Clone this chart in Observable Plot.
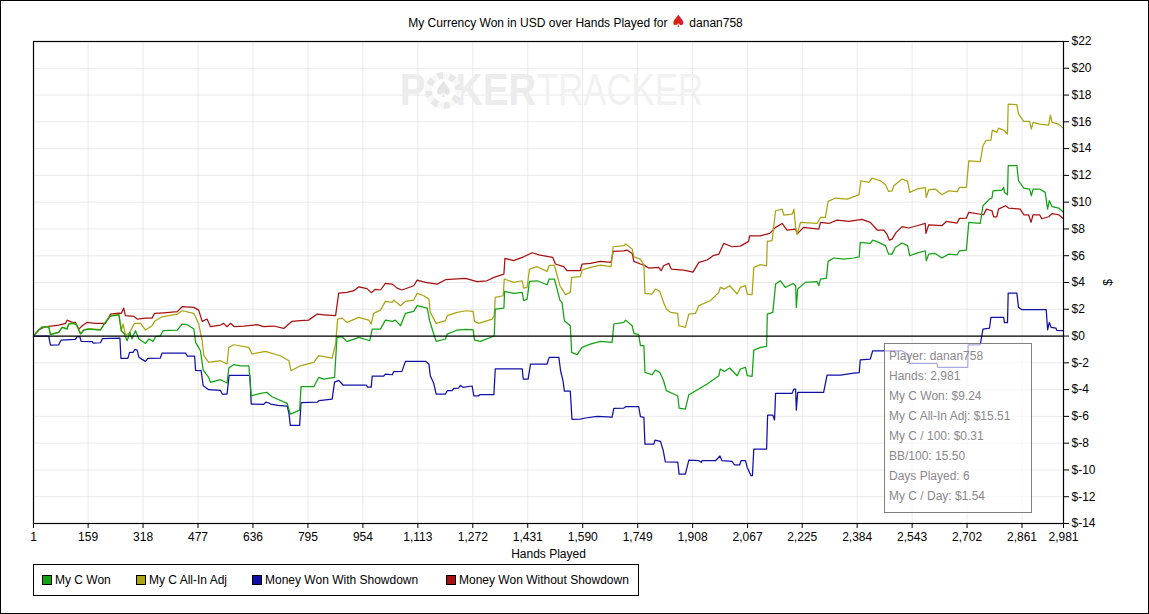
<!DOCTYPE html>
<html><head><meta charset="utf-8">
<script src="https://cdn.jsdelivr.net/npm/d3@7"></script>
<script src="https://cdn.jsdelivr.net/npm/@observablehq/plot@0.6"></script>
<style>
html,body{margin:0;padding:0;background:#fff;overflow:hidden}
#page{position:relative;width:1149px;height:614px;font-family:"Liberation Sans",Arial,sans-serif;color:#000;font-size:12px}
#page svg.plot{position:absolute;left:0;top:0;background:transparent}
#border{position:absolute;left:0;top:0;width:1147px;height:612px;border:1px solid #000;pointer-events:none}
#title{position:absolute;left:0;width:1149px;top:15px;text-align:center;font-size:12px;line-height:14px;padding-left:2px;box-sizing:border-box}
#title b{color:#d8201c;font-weight:normal;font-size:17px;line-height:12px;font-family:"DejaVu Sans"}
.wm{position:absolute;top:65px;white-space:nowrap;font-size:44px;line-height:50px;transform-origin:0 0}
#wm1{left:400px;font-weight:bold;color:#ececec;transform:scaleX(.87)}
#wm2{left:537px;color:#f1f1f1;transform:scaleX(.79)}
#chip{position:absolute;left:425px;top:72px;width:37px;height:37px;border-radius:50%;background:repeating-conic-gradient(from -22.5deg,#e9e9e9 0 22.5deg,#f8f8f8 22.5deg 45deg)}
#chip div{position:absolute;left:7px;top:7px;width:23px;height:23px;border-radius:50%;background:#fff;color:#e4e4e4;text-align:center;font:22px/22px "DejaVu Sans"}
#legend{position:absolute;left:33px;top:564px;width:604px;height:30px;border:1px solid #000;background:#fff}
#legend i{position:absolute;top:10px;width:8px;height:8px;border:1px solid #000}
#legend span{position:absolute;top:8px;line-height:14px;white-space:nowrap}
#tip{position:absolute;left:884px;top:343px;width:146px;height:168px;border:1px solid #808080;background:rgba(255,255,255,.65);color:#8b878c}
#tip div{position:absolute;left:4px;line-height:14px;white-space:nowrap}
</style></head><body>
<div id="page">
<div class="wm" id="wm1">POKER</div><div class="wm" id="wm2">TRACKER</div>
<div id="chip"><div>♠</div></div>
<div id="chart"></div>
<div id="title"></div>
<div id="legend"></div>
<div id="tip"></div>
<div id="border"></div>
</div>
<script>
const titleText = "My Currency Won in USD over Hands Played for";
const playerName = "danan758";
const xTicks = [1,159,318,477,636,795,954,1113,1272,1431,1590,1749,1908,2067,2225,2384,2543,2702,2861,2981];
const yTicks = [-14,-12,-10,-8,-6,-4,-2,0,2,4,6,8,10,12,14,16,18,20,22];
const seriesNames = ["My C Won","My C All-In Adj","Money Won With Showdown","Money Won Without Showdown"];
const seriesColors = ["#12a312","#aba312","#1010a8","#a81010"];
const tipLines = ["Player: danan758","Hands: 2,981","My C Won: $9.24","My C All-In Adj: $15.51","My C / 100: $0.31","BB/100: 15.50","Days Played: 6","My C / Day: $1.54"];

const myCWon = [[1,0],[14,.4],[26,.67],[45,.7],[50,.1],[74,.27],[84,.65],[98,.52],[103,.9],[118,.95],[127,.77],[137,.15],[147,.45],[161,.52],[195,.45],[209,1.02],[224,1.49],[248,1.59],[255,.4],[264,.15],[272,-.35],[280,.27],[286,-.22],[296,.4],[306,-.22],[325,-.55],[335,-.22],[347,-.4],[354,-.05],[368,.02],[376,.4],[417,.45],[431,.9],[446,.85],[465,.52],[470,-.47],[484,-1.1],[492,-2.54],[508,-3.09],[513,-3.46],[542,-3.26],[561,-3.51],[566,-2.39],[580,-2.14],[600,-2.22],[624,-2.22],[631,-4.46],[658,-4.28],[677,-4.21],[691,-4.53],[735,-5.03],[744,-5.83],[771,-5.53],[775,-3.78],[812,-3.78],[826,-3.09],[841,-3.21],[872,-3.09],[879,-.1],[894,-.05],[908,-.42],[942,-.1],[974,-.35],[981,.52],[1005,.52],[1019,1.19],[1039,1.1],[1048,1.19],[1063,.77],[1077,1.69],[1101,1.84],[1111,2.27],[1140,2.09],[1147,1.15],[1156,.4],[1166,-.4],[1193,-.22],[1198,.15],[1227,.45],[1251,.5],[1273,.47],[1277,-.3],[1294,-.4],[1328,-.05],[1334,.02],[1337,2.02],[1362,2.09],[1364,3.34],[1390,3.19],[1415,3.26],[1419,2.64],[1429,2.76],[1436,4.08],[1458,4.13],[1487,3.83],[1493,4.26],[1508,4.26],[1514,3.68],[1524,2.69],[1530,2.51],[1537,1.15],[1554,.77],[1558,-1.22],[1574,-1.39],[1588,-.85],[1612,-.6],[1641,-.4],[1675,-.47],[1680,.9],[1709,1.02],[1714,1.19],[1733,.77],[1738,.2],[1752,.1],[1757,-.72],[1767,-.72],[1770,-2.71],[1791,-2.89],[1800,-2.54],[1813,-2.71],[1824,-3.34],[1832,-4.08],[1858,-4.38],[1865,-4.46],[1869,-5.38],[1887,-5.45],[1897,-4.38],[1926,-3.96],[1950,-3.58],[1984,-2.96],[1988,-2.46],[2000,-2.64],[2015,-2.39],[2037,-2.96],[2046,-2.46],[2061,-2.34],[2066,-2.96],[2080,-3.01],[2085,-1.05],[2104,-.85],[2122,-.77],[2124,1.64],[2140,1.77],[2148,3.88],[2162,4.13],[2176,3.63],[2199,3.93],[2206,3.76],[2208,2.14],[2212,3.51],[2234,4.01],[2268,4.06],[2273,3.76],[2278,4.26],[2295,4.33],[2300,5.58],[2316,5.83],[2345,5.75],[2374,5.83],[2390,5.92],[2393,7],[2422,6.92],[2429,7.17],[2446,7],[2466,6.75],[2475,6.12],[2485,6.12],[2494,6.62],[2514,6.95],[2530,6.75],[2536,6],[2557,6.2],[2581,6.37],[2584,5.63],[2591,6.12],[2610,6.17],[2629,5.83],[2649,6.12],[2673,6.07],[2680,6.37],[2700,6.42],[2707,8.49],[2740,8.41],[2748,9.73],[2767,10.23],[2774,10.31],[2777,10.85],[2803,10.9],[2808,11.1],[2810,10.73],[2819,10.55],[2821,12.72],[2846,12.72],[2851,11.6],[2866,11.05],[2883,10.98],[2888,10.48],[2893,10.98],[2912,10.98],[2928,10.73],[2935,9.48],[2940,10.11],[2948,9.66],[2967,9.56],[2981,9.24]];

const myCAllIn = [[1,0],[14,.4],[26,.67],[45,.7],[50,.12],[74,.3],[84,.67],[98,.55],[103,.92],[118,.97],[127,.8],[137,.18],[147,.48],[161,.55],[195,.48],[209,1.05],[224,1.52],[248,1.62],[255,.4],[260,.9],[267,.15],[277,.15],[282,.4],[293,.95],[311,.95],[325,.45],[344,.77],[351,1.1],[373,1.44],[417,1.64],[431,1.89],[465,1.69],[479,.9],[489,-.35],[494,-1.47],[508,-1.97],[542,-1.84],[561,-2.09],[566,-.85],[580,-.65],[624,-.85],[633,-1.34],[672,-1.15],[715,-1.47],[740,-1.84],[746,-2.59],[773,-2.22],[812,-1.97],[826,-1.47],[865,-1.64],[875,-.6],[881,1.27],[894,1.34],[908,1.02],[942,1.39],[971,1.19],[978,.9],[985,1.69],[1005,1.94],[1019,2.59],[1039,2.51],[1043,2.69],[1063,2.27],[1077,2.59],[1101,2.69],[1111,3.19],[1130,3.01],[1145,2.76],[1149,1.77],[1166,.95],[1193,1.15],[1198,1.52],[1227,1.77],[1251,1.89],[1273,1.84],[1277,1.1],[1289,.95],[1328,1.27],[1334,1.52],[1337,2.89],[1360,3.01],[1363,4.26],[1390,4.01],[1415,4.13],[1419,3.58],[1429,3.63],[1436,5],[1458,5.18],[1487,4.83],[1493,5.28],[1508,5.28],[1514,4.73],[1524,3.76],[1540,3.09],[1554,3.26],[1558,4.38],[1583,4.43],[1588,4.93],[1612,5.13],[1641,5.3],[1672,5.18],[1678,6.67],[1709,6.75],[1714,6.87],[1733,6.5],[1738,5.92],[1757,5.75],[1767,5.3],[1770,3.19],[1791,3.14],[1800,3.51],[1813,3.34],[1824,2.51],[1832,2.02],[1844,1.77],[1865,1.69],[1868,.77],[1887,.65],[1897,1.64],[1916,1.69],[1926,2.27],[1959,2.64],[1984,3.26],[1988,3.63],[2000,3.51],[2015,3.76],[2037,3.14],[2046,3.63],[2061,3.76],[2066,3.14],[2080,3.09],[2085,5.13],[2104,5.33],[2122,5.25],[2124,7.07],[2138,7.12],[2148,9.36],[2167,9.48],[2172,9.04],[2196,9.11],[2201,9.48],[2206,8.12],[2210,7.57],[2220,8.49],[2268,8.41],[2278,8.86],[2292,8.86],[2300,10.06],[2321,10.31],[2355,10.23],[2389,10.55],[2395,11.6],[2418,11.48],[2427,11.8],[2451,11.6],[2466,11.3],[2475,10.8],[2485,10.85],[2490,11.23],[2514,11.73],[2530,11.55],[2536,10.73],[2557,10.98],[2581,11.1],[2584,10.36],[2591,10.93],[2610,10.98],[2629,10.55],[2649,10.85],[2673,10.78],[2680,11.1],[2700,11.1],[2707,13.09],[2740,13.02],[2748,14.21],[2756,14.59],[2771,14.64],[2775,15.38],[2788,15.21],[2793,15.53],[2808,15.38],[2819,15.09],[2821,17.33],[2846,17.28],[2851,16.58],[2866,16.03],[2883,16.03],[2888,15.46],[2893,15.96],[2912,15.83],[2938,15.76],[2943,16.5],[2948,15.96],[2967,15.83],[2981,15.51]];

const withShowdown = [[1,0],[45,0],[50,-.67],[74,-.65],[81,-.3],[122,-.25],[127,-.05],[135,-.05],[139,-.4],[171,-.42],[174,-.52],[195,-.5],[200,-.2],[251,-.15],[254,-1.67],[274,-1.67],[279,-1.22],[289,-1.22],[294,-1],[301,-1.05],[306,-1.59],[315,-1.74],[325,-1.89],[332,-1.67],[368,-1.64],[373,-1.27],[441,-1.27],[446,-1.49],[467,-1.49],[470,-2.56],[486,-2.59],[492,-3.71],[508,-4.01],[542,-4.06],[547,-4.33],[561,-4.33],[567,-2.94],[627,-2.94],[631,-5.08],[667,-5.1],[673,-4.93],[682,-5],[687,-5.08],[708,-5.18],[735,-5.23],[740,-5.78],[744,-6.67],[771,-6.67],[775,-4.98],[822,-4.93],[827,-4.83],[865,-4.71],[872,-3.44],[884,-3.31],[894,-3.58],[897,-3.66],[964,-3.66],[968,-3.81],[978,-3.81],[981,-2.99],[1014,-2.99],[1019,-2.84],[1039,-2.89],[1043,-2.66],[1067,-2.64],[1077,-1.89],[1135,-1.89],[1145,-2.09],[1149,-2.96],[1159,-3.53],[1166,-4.33],[1193,-4.33],[1198,-4.08],[1212,-4.08],[1217,-3.91],[1231,-3.88],[1236,-3.68],[1243,-3.83],[1270,-3.73],[1275,-4.46],[1289,-4.46],[1292,-4.38],[1333,-4.38],[1337,-2.46],[1415,-2.46],[1418,-3.21],[1432,-3.21],[1439,-2.09],[1487,-2.09],[1493,-1.59],[1521,-1.59],[1526,-2.59],[1533,-3.34],[1537,-4.11],[1554,-4.11],[1559,-6.22],[1583,-6.2],[1598,-6.12],[1632,-6],[1675,-6.05],[1680,-5.4],[1709,-5.38],[1714,-5.28],[1752,-5.28],[1757,-6.02],[1767,-6.07],[1770,-8.07],[1796,-8.07],[1799,-7.77],[1815,-7.87],[1823,-8.56],[1829,-9.39],[1865,-9.41],[1869,-10.31],[1887,-10.31],[1897,-9.26],[1926,-9.31],[1933,-9.43],[1935,-9.31],[1974,-9.31],[1987,-8.96],[1993,-9.31],[2022,-9.36],[2029,-9.63],[2044,-9.63],[2048,-9.31],[2061,-9.31],[2066,-9.81],[2077,-10.43],[2081,-10.43],[2085,-8.44],[2122,-8.44],[2125,-5.9],[2140,-5.9],[2145,-6.27],[2148,-4.28],[2196,-4.28],[2201,-3.96],[2206,-3.96],[2208,-5.53],[2212,-4.21],[2287,-4.21],[2297,-2.91],[2336,-2.91],[2374,-2.76],[2390,-2.74],[2393,-1.77],[2422,-1.72],[2429,-1.1],[2514,-1.1],[2533,-1.42],[2536,-2.04],[2615,-2.04],[2617,-2.34],[2704,-2.34],[2705,-.65],[2740,-.65],[2748,.52],[2767,.6],[2771,1.39],[2808,1.39],[2810,1],[2819,1],[2821,3.21],[2846,3.21],[2851,2.14],[2861,1.97],[2931,1.97],[2935,.47],[2940,1.02],[2945,.65],[2959,.6],[2962,.42],[2981,.4]];

const withoutShowdown = [[1,0],[16,.45],[31,.67],[50,.75],[74,.82],[94,.95],[98,1.19],[113,1.02],[122,1.02],[132,.52],[142,.77],[156,1.02],[180,.95],[209,.95],[224,1.64],[248,1.72],[255,1.69],[262,2.09],[267,1.52],[291,1.47],[301,1.27],[325,1.34],[344,1.34],[351,1.69],[378,1.74],[417,1.82],[431,2.19],[465,2.14],[479,1.94],[489,1.1],[503,1.27],[513,.7],[542,.82],[551,.95],[561,.7],[571,.95],[582,.7],[609,.75],[648,.85],[667,.7],[696,.75],[725,.57],[749,1.1],[773,1.15],[797,1.19],[822,1.64],[841,1.59],[875,1.52],[884,3.21],[908,3.26],[928,3.39],[942,3.68],[966,3.54],[978,3.24],[990,3.49],[1005,3.44],[1019,3.93],[1039,3.88],[1053,3.58],[1067,3.44],[1101,3.76],[1111,4.18],[1135,4.01],[1169,3.88],[1193,4.21],[1251,4.31],[1284,4.06],[1313,4.13],[1333,4.38],[1362,4.63],[1365,5.8],[1390,5.63],[1419,5.92],[1444,6.22],[1463,6.07],[1503,5.88],[1511,5.38],[1535,5.18],[1545,4.88],[1583,4.88],[1588,5.38],[1612,5.43],[1641,5.58],[1672,5.5],[1678,6.32],[1709,6.37],[1718,6.42],[1733,6.17],[1738,5.58],[1757,5.38],[1767,5.3],[1781,5.08],[1810,5.13],[1817,4.88],[1824,5.25],[1839,5.43],[1846,5],[1882,4.93],[1909,4.78],[1926,5.5],[1950,5.68],[1967,6],[1984,6.12],[1998,6.92],[2022,6.67],[2046,6.72],[2070,7.07],[2073,7.49],[2104,7.49],[2131,7.67],[2148,8.12],[2167,8.41],[2181,7.92],[2205,7.99],[2212,7.67],[2229,8.12],[2273,7.99],[2278,8.49],[2302,8.41],[2326,8.66],[2360,8.56],[2398,8.71],[2422,8.49],[2442,7.92],[2461,7.92],[2470,7.62],[2477,7.17],[2485,7.24],[2497,7.74],[2514,8.17],[2533,8.07],[2557,8.24],[2581,8.41],[2583,7.67],[2591,8.31],[2629,8.24],[2642,8.56],[2673,8.44],[2680,8.79],[2700,8.81],[2707,9.24],[2750,9.06],[2758,9.48],[2774,9.36],[2779,8.91],[2788,8.91],[2793,9.48],[2813,9.73],[2822,9.56],[2856,9.48],[2866,9.06],[2880,9.06],[2887,8.49],[2893,9.06],[2912,9.06],[2918,8.76],[2938,8.91],[2948,9.14],[2967,9.06],[2981,8.76]];

const drawOrder = [[withoutShowdown,3],[withShowdown,2],[myCAllIn,1],[myCWon,0]];
const chart = Plot.plot({
  width:1149, height:614,
  marginLeft:33, marginRight:86, marginTop:41, marginBottom:91,
  style:{fontFamily:'"Liberation Sans",Arial,sans-serif',fontSize:"12px",color:"#000",background:"transparent"},
  x:{domain:[1,2981],type:"linear"},
  y:{domain:[-14,22]},
  marks:[
    Plot.gridX(xTicks,{stroke:"#dcdcdc",strokeOpacity:.6,strokeWidth:1}),
    Plot.gridY(yTicks,{stroke:"#dcdcdc",strokeOpacity:.6,strokeWidth:1}),
    ...drawOrder.map(([rows,i])=>Plot.line(rows,{x:d=>d[0],y:d=>d[1],stroke:seriesColors[i],strokeWidth:1.25,strokeLinejoin:"round"})),
    Plot.ruleY([0],{stroke:"#000",strokeWidth:1.2}),
    Plot.frame({stroke:"#000",strokeWidth:1.2}),
    Plot.axisX(xTicks,{tickSize:5,tickPadding:4,tickFormat:d3.format(","),label:"Hands Played",labelAnchor:"center",labelArrow:"none",labelOffset:34,fontSize:12,stroke:"#000"}),
    Plot.axisY(yTicks,{anchor:"right",tickSize:5,tickPadding:3,tickFormat:d=>"$"+d,label:"$",labelAnchor:"center",labelArrow:"none",labelOffset:48,fontSize:12,stroke:"#000"})
  ]
});
document.getElementById("chart").append(chart);

const t=document.getElementById("title");
t.innerHTML=titleText+' <b>♠</b> '+playerName;

const lg=document.getElementById("legend");
[[8,21],[102,115],[218,231],[412,425]].forEach(([sx,tx],i)=>{
  const s=document.createElement("i");s.style.left=sx+"px";s.style.background=seriesColors[i];lg.append(s);
  const l=document.createElement("span");l.style.left=tx+"px";l.textContent=seriesNames[i];lg.append(l);
});
const tp=document.getElementById("tip");
tipLines.forEach((txt,i)=>{const d=document.createElement("div");d.style.top=(5+i*20)+"px";d.textContent=txt;tp.append(d);});
</script>
</body></html>
